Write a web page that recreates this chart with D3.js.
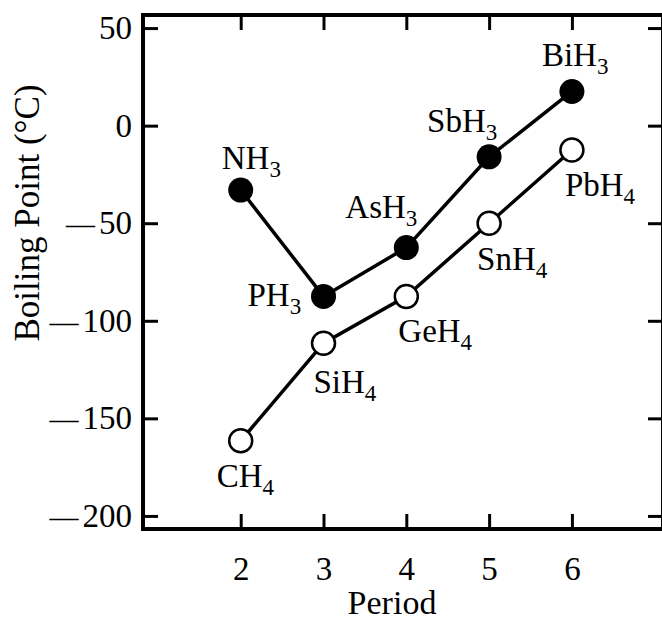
<!DOCTYPE html>
<html>
<head>
<meta charset="utf-8">
<script src="https://cdn.jsdelivr.net/npm/d3@7"></script>
<style>
  body { margin: 0; background: #fff; }
  text { font-family: "Liberation Serif", "DejaVu Serif", serif; fill: #000; }
</style>
</head>
<body>
<div id="chart"></div>
<script>
// periods on the x axis
var periods = [2, 3, 4, 5, 6];
// group 15 hydrides (filled markers)
var group15Names = ["NH", "PH", "AsH", "SbH", "BiH"];
var group15Sub = "3";
var group15Values = [-33, -87.5, -62.5, -16, 17.5];
// group 14 hydrides (open markers)
var group14Names = ["CH", "SiH", "GeH", "SnH", "PbH"];
var group14Sub = "4";
var group14Values = [-161.5, -111.5, -87.5, -50, -12.5];
var yTicks = [50, 0, -50, -100, -150, -200];

// label placement relative to each point (left edge, baseline)
var group15Offsets = [[-19, -21], [-76, 10], [-61, -30], [-62, -25], [-30, -25]];
var group14Offsets = [[-24, 46], [-10, 50], [-8, 46], [-12, 47], [-7, 46]];

var W = 662, H = 621;
var plotLeft = 143, plotRight = 663, plotTop = 15, plotBottom = 529;

var svg = d3
  .select("#chart")
  .append("svg")
  .attr("width", W)
  .attr("height", H);

var x = d3.scaleLinear().domain([0.82, 7.1]).range([plotLeft, plotRight]);
var y = d3.scaleLinear().domain([-206.7, 56.7]).range([plotBottom, plotTop]);

// axes with inward ticks
var yAxis = svg
  .append("g")
  .attr("transform", "translate(" + plotLeft + ",0)")
  .call(d3.axisLeft(y).tickValues(yTicks).tickSize(-15).tickPadding(11));
svg
  .append("g")
  .attr("transform", "translate(" + plotRight + ",0)")
  .call(d3.axisRight(y).tickValues(yTicks).tickSize(-15).tickFormat(""));
var xAxis = svg
  .append("g")
  .attr("transform", "translate(0," + plotBottom + ")")
  .call(d3.axisBottom(x).tickValues(periods).tickSize(-15).tickFormat(d3.format("d")));
svg
  .append("g")
  .attr("transform", "translate(0," + plotTop + ")")
  .call(d3.axisTop(x).tickValues(periods).tickSize(-15).tickFormat(""));

svg.selectAll(".domain").remove();
svg.selectAll(".tick line").attr("stroke", "#000").attr("stroke-width", 3);
svg.selectAll(".tick text").style("font-size", "33px").attr("fill", "#000");

xAxis.selectAll(".tick text").attr("y", 51).attr("dy", 0);

// long minus sign like the original typesetting
yAxis.selectAll(".tick text").each(function (d) {
  var t = d3.select(this);
  t.text(null);
  if (d < 0) {
    t.append("tspan").style("font-size", "29px").text("\u2014");
    t.append("tspan").attr("dx", 4).text(Math.abs(d));
  } else {
    t.append("tspan").text(d);
  }
});

// frame
svg
  .append("rect")
  .attr("x", plotLeft)
  .attr("y", plotTop)
  .attr("width", plotRight - plotLeft)
  .attr("height", plotBottom - plotTop)
  .attr("fill", "none")
  .attr("stroke", "#000")
  .attr("stroke-width", 4);

// axis titles
svg
  .append("text")
  .attr("text-anchor", "middle")
  .attr("x", 392)
  .attr("y", 614)
  .style("font-size", "34px")
  .text("Period");

svg
  .append("text")
  .attr("text-anchor", "middle")
  .attr("transform", "translate(39," + 213 + ") rotate(-90)")
  .style("font-size", "35px")
  .text("Boiling Point (\u00b0C)");

var line = d3
  .line()
  .x(function (d) { return x(d.p); })
  .y(function (d) { return y(d.v); });

function drawSeries(names, sub, values, offsets, filled) {
  var data = periods.map(function (p, i) {
    return { p: p, v: values[i], name: names[i], off: offsets[i] };
  });

  svg
    .append("path")
    .datum(data)
    .attr("d", line)
    .attr("fill", "none")
    .attr("stroke", "#000")
    .attr("stroke-width", 3.5);

  svg
    .append("g")
    .selectAll("circle")
    .data(data)
    .enter()
    .append("circle")
    .attr("cx", function (d) { return x(d.p); })
    .attr("cy", function (d) { return y(d.v); })
    .attr("r", filled ? 12.5 : 11.5)
    .attr("fill", filled ? "#000" : "#fff")
    .attr("stroke", "#000")
    .attr("stroke-width", filled ? 0 : 2.5);

  var labels = svg
    .append("g")
    .selectAll("text")
    .data(data)
    .enter()
    .append("text")
    .attr("x", function (d) { return x(d.p) + d.off[0]; })
    .attr("y", function (d) { return y(d.v) + d.off[1]; })
    .style("font-size", "33px");
  labels.append("tspan").text(function (d) { return d.name; });
  labels
    .append("tspan")
    .attr("dy", 8)
    .style("font-size", "23px")
    .text(sub);
}

drawSeries(group15Names, group15Sub, group15Values, group15Offsets, true);
drawSeries(group14Names, group14Sub, group14Values, group14Offsets, false);
</script>
</body>
</html>
